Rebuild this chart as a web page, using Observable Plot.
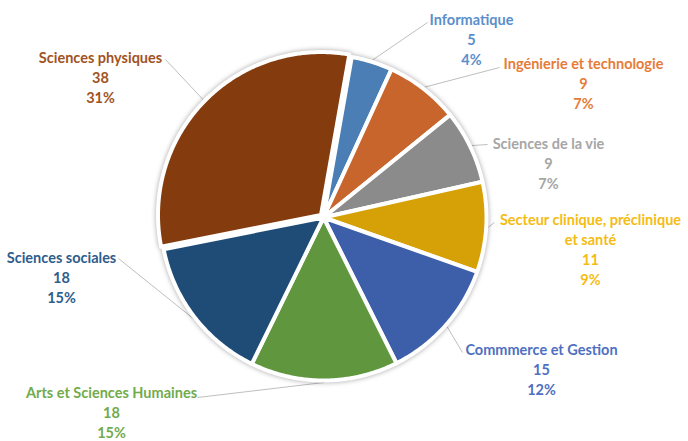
<!DOCTYPE html>
<html><head><meta charset="utf-8">
<script src="https://cdn.jsdelivr.net/npm/d3@7"></script>
<script src="https://cdn.jsdelivr.net/npm/@observablehq/plot@0.6"></script>
<style>
html,body{margin:0;padding:0;background:#fff;}
#chart svg{display:block;}
#chart g[aria-label="line"]{filter:drop-shadow(0px 0px 2.5px rgba(0,0,0,0.35));}
</style></head><body><div id="chart"></div>
<script>
// ---- data ----
const categories = ["Informatique","Ingénierie et technologie","Sciences de la vie","Secteur clinique, préclinique et santé","Commmerce et Gestion","Arts et Sciences Humaines","Sciences sociales","Sciences physiques"];
const values = [5, 9, 9, 11, 15, 18, 18, 38];
const sliceColors = ["#4a7eb4","#c8652c","#8b8b8b","#d5a106","#3d5fa9","#5f963e","#1f4c77","#843c0e"];
const labelColors = ["#5b8fcb","#e67c38","#a6a6a6","#f4bc14","#5070c0","#72ab4c","#2f5d8d","#a0531f"];

// ---- layout (pixels) ----
const W = 688, H = 441, CX = 323, CY = 217, R = 163, START_DEG = 10;
const labelLines = [null, null, null, ["Secteur clinique, préclinique","et santé"], null, null, null, null];
const labelPos = [[471,38],[583,82],[548,162],[590,248],[541,368],[111,411],[61,276],[100,76]];
const leaderEnd = [[427,22],[499,67],[487,144],[494,222],[462,352],[197,397],[118,258],[165,59]];
const explode = [0,0,0,0,0,0,0,3.5];

const total = d3.sum(values);
const arcs = d3.pie().sort(null).startAngle(START_DEG*Math.PI/180).endAngle(START_DEG*Math.PI/180 + 2*Math.PI)(values);

const sliceRows = [];
arcs.forEach((a, i) => {
  const mid = (a.startAngle + a.endAngle)/2;
  const ox = explode[i]*Math.sin(mid), oy = explode[i]*Math.cos(mid);
  sliceRows.push({name: categories[i], x: ox, y: oy, fill: sliceColors[i]});
  const n = Math.max(2, Math.ceil((a.endAngle - a.startAngle)/(Math.PI/360)));
  for (let k = 0; k <= n; k++) {
    const t = a.startAngle + (a.endAngle - a.startAngle)*k/n;
    sliceRows.push({name: categories[i], x: ox + R*Math.sin(t), y: oy + R*Math.cos(t), fill: sliceColors[i]});
  }
  sliceRows.push({name: categories[i], x: ox, y: oy, fill: sliceColors[i]});
});

const labelRows = arcs.map((a, i) => {
  const pct = Math.round(values[i]/total*100) + "%";
  const head = labelLines[i] ? labelLines[i].join("\n") : categories[i];
  return {text: head + "\n" + values[i] + "\n" + pct, x: labelPos[i][0]-CX, y: CY-labelPos[i][1], fill: labelColors[i]};
});

const leaderRows = arcs.map((a, i) => {
  const mid = (a.startAngle + a.endAngle)/2;
  const rr = R + 2 + explode[i];
  return {x1: rr*Math.sin(mid), y1: rr*Math.cos(mid), x2: leaderEnd[i][0]-CX, y2: CY-leaderEnd[i][1]};
});

const chart = Plot.plot({
  width: W, height: H, margin: 0,
  x: {domain: [-CX, W-CX], axis: null},
  y: {domain: [CY-H, CY], axis: null},
  color: {type: "identity"},
  style: {background: "white", fontFamily: "Lato, 'Open Sans', sans-serif"},
  marks: [
    Plot.link(leaderRows, {x1: "x1", y1: "y1", x2: "x2", y2: "y2", stroke: "#bfbfbf", strokeWidth: 1}),
    Plot.line(sliceRows, {x: "x", y: "y", z: "name", fill: "fill", stroke: "white", strokeWidth: 4, strokeLinejoin: "round", strokeLinecap: "round", curve: "linear"}),
    Plot.text(labelRows, {x: "x", y: "y", text: "text", fill: "fill", fontSize: 14.5, fontWeight: "bold", lineHeight: 20/14.5, textAnchor: "middle", lineAnchor: "middle"})
  ]
});
document.getElementById("chart").appendChild(chart);
</script></body></html>
